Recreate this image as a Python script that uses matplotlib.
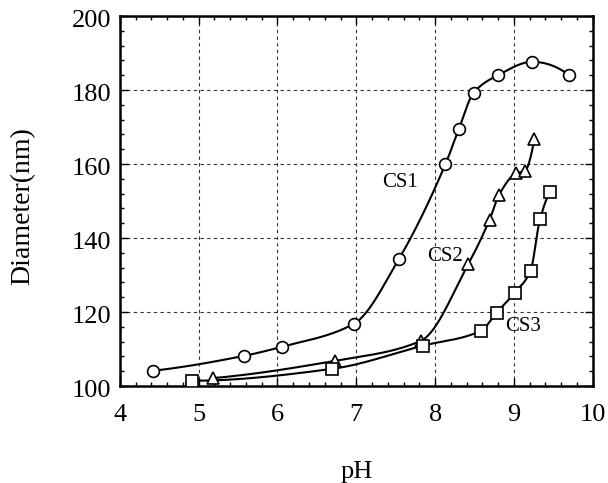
import numpy as np
import matplotlib
matplotlib.use("Agg")
import matplotlib.pyplot as plt
from matplotlib.ticker import MultipleLocator
from matplotlib.transforms import ScaledTranslation

plt.rcParams['font.family'] = ['Liberation Serif', 'DejaVu Serif']

# Data
cs1_ph = [4.42, 5.57, 6.06, 6.97, 7.54, 8.13, 8.30, 8.49, 8.80, 9.23, 9.70]
cs1_d = [104.1, 108.1, 110.6, 116.8, 134.3, 159.9, 169.4, 179.3, 184.0, 187.6, 184.0]
cs2_ph = [5.18, 6.73, 7.82, 8.42, 8.69, 8.81, 9.03, 9.14, 9.26]
cs2_d = [102.1, 106.8, 112.2, 132.9, 144.9, 151.6, 157.5, 158.1, 166.7]
cs3_ph = [4.92, 6.69, 7.85, 8.58, 8.78, 9.01, 9.21, 9.33, 9.46]
cs3_d = [101.4, 104.6, 110.9, 114.9, 119.8, 125.2, 131.1, 145.0, 152.3]
labels = ["CS1", "CS2", "CS3"]


def pchip_curve(x, y, n=400):
    x = np.asarray(x, float)
    y = np.asarray(y, float)
    h = np.diff(x)
    delta = np.diff(y) / h
    m = len(x)
    d = np.zeros(m)
    for k in range(1, m - 1):
        if delta[k - 1] * delta[k] > 0:
            w1 = 2 * h[k] + h[k - 1]
            w2 = h[k] + 2 * h[k - 1]
            d[k] = (w1 + w2) / (w1 / delta[k - 1] + w2 / delta[k])

    def end(h0, h1, d0, d1):
        s = ((2 * h0 + h1) * d0 - h0 * d1) / (h0 + h1)
        if np.sign(s) != np.sign(d0):
            s = 0.0
        elif np.sign(d0) != np.sign(d1) and abs(s) > abs(3 * d0):
            s = 3 * d0
        return s
    d[0] = end(h[0], h[1], delta[0], delta[1])
    d[-1] = end(h[-1], h[-2], delta[-1], delta[-2])
    g = np.linspace(x[0], x[-1], n)
    idx = np.clip(np.searchsorted(x, g) - 1, 0, m - 2)
    t = (g - x[idx]) / h[idx]
    h00 = 2 * t**3 - 3 * t**2 + 1
    h10 = t**3 - 2 * t**2 + t
    h01 = -2 * t**3 + 3 * t**2
    h11 = t**3 - t**2
    f = (h00 * y[idx] + h10 * h[idx] * d[idx] + h01 * y[idx + 1]
         + h11 * h[idx] * d[idx + 1])
    return g, f


fig = plt.figure(figsize=(6.08, 4.83), dpi=100)
ax = fig.add_axes([0.197, 0.201, 0.778, 0.766])

series = [(cs1_ph, cs1_d, 'o', 8.5),
          (cs2_ph, cs2_d, '^', 8.5),
          (cs3_ph, cs3_d, 's', 8)]
for xs, ys, mk, ms in series:
    gx, gy = pchip_curve(xs, ys)
    ax.plot(gx, gy, color='black', lw=1.5, zorder=3)
    ax.plot(xs, ys, linestyle='none', marker=mk, ms=ms, mfc='white',
            mec='black', mew=1.2, zorder=4)

ax.text(7.56, 155, labels[0], fontsize=15, ha='center', va='center')
ax.text(8.12, 135, labels[1], fontsize=15, ha='center', va='center')
ax.text(9.12, 116, labels[2], fontsize=15, ha='center', va='center')

ax.set_xlim(4, 10)
ax.set_ylim(100, 200)
ax.xaxis.set_major_locator(MultipleLocator(1))
ax.xaxis.set_minor_locator(MultipleLocator(0.2))
ax.yaxis.set_major_locator(MultipleLocator(20))
ax.yaxis.set_minor_locator(MultipleLocator(4))
ax.tick_params(which='both', direction='in', top=True, right=True,
               labelsize=19, width=1)
ax.tick_params(axis='x', pad=13)
ax.tick_params(axis='y', pad=6)
ax.tick_params(which='major', length=6)
ax.tick_params(which='minor', length=3)
ax.grid(True, which='major', linestyle=(0, (3, 3)), color='#333333', lw=0.8)
for s in ax.spines.values():
    s.set_linewidth(1.8)

offset = ScaledTranslation(0, -3 / 100, fig.dpi_scale_trans)
for lab in ax.get_yticklabels():
    lab.set_transform(lab.get_transform() + offset)

ax.set_xlabel('pH', fontsize=19, labelpad=25)
ax.set_ylabel('Diameter(nm)', fontsize=20, labelpad=26, y=0.486)

fig.savefig('out.png', dpi=100)
